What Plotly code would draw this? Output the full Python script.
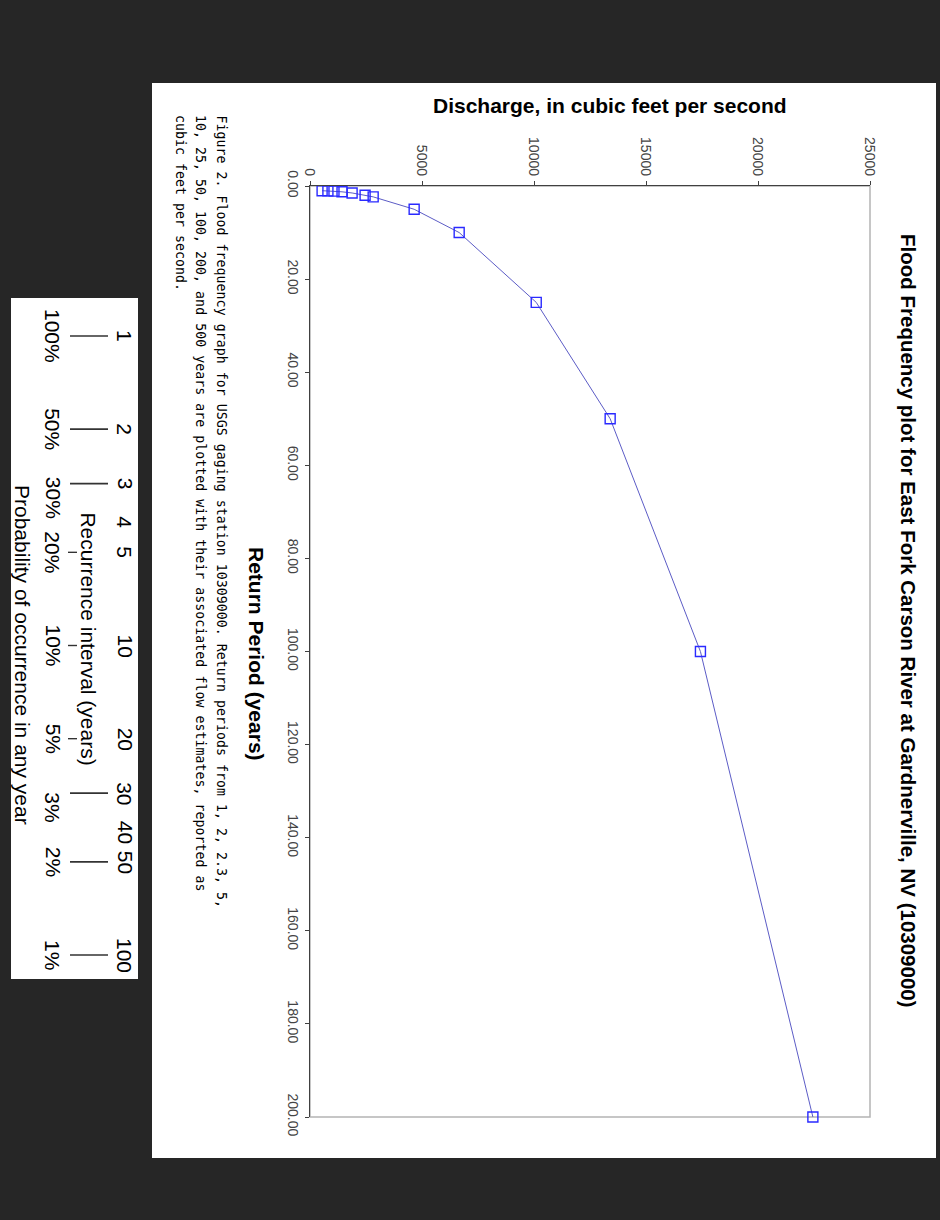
import numpy as np
import plotly.graph_objects as go

# ---------------- data ----------------
return_period = [1.01, 1.05, 1.11, 1.25, 1.5, 2, 2.33, 5, 10, 25, 50, 100, 200]
discharge = [540, 800, 1070, 1430, 1880, 2460, 2820, 4650, 6660, 10100, 13400, 17430, 22450]

discharge_ticks = [0, 5000, 10000, 15000, 20000, 25000]
period_ticks = [0, 20, 40, 60, 80, 100, 120, 140, 160, 180, 200]

title_text = "Flood Frequency plot for East Fork Carson River at Gardnerville, NV (10309000)"
x_title = "Discharge, in cubic feet per second"
y_title = "Return Period (years)"
caption_lines = [
    "Figure 2. Flood frequency graph for USGS gaging station 10309000. Return periods from 1, 2, 2.3, 5,",
    "10, 25, 50, 100, 200, and 500 years are plotted with their associated flow estimates, reported as",
    "cubic feet per second.",
]

# recurrence-interval ruler
ruler_years = [1, 2, 3, 4, 5, 10, 20, 30, 40, 50, 100]
ruler_pct = [100, 50, 30, 20, 10, 5, 3, 2, 1]
long_bar_years = [1, 2, 3, 30, 50, 100]
short_bar_years = [5, 10, 20]
ruler_title = "Recurrence interval (years)"
prob_title = "Probability of occurrence in any year"

# ---------------- layout helpers (pixel -> paper) ----------------
W, H = 940, 1220
L, R, T, B = 310, 870, 186, 1117


def px(x):
    return (x - L) / (R - L)


def py(y):
    return (B - y) / (B - T)


# log ruler: year 1 at y=336 px, year 100 at y=955 px
r_top, r_dec = 336, 309.5
ruler_range = [(B - r_top) / r_dec, (T - r_top) / r_dec]

FONT = "Liberation Sans, Arial, sans-serif"
fig = go.Figure()

fig.add_trace(go.Scatter(
    x=discharge, y=return_period, mode="lines+markers",
    line=dict(color="#5c5cc6", width=1),
    marker=dict(symbol="square-open", size=10, color="#2a2aff", line=dict(width=1.4, color="#2a2aff")),
    cliponaxis=False, showlegend=False, hoverinfo="skip"))
# invisible trace to activate the ruler axis
fig.add_trace(go.Scatter(x=[None], y=[None], yaxis="y2", showlegend=False, hoverinfo="skip"))

shapes = [
    # white sheet
    dict(type="rect", xref="paper", yref="paper", x0=px(152), x1=px(936), y0=py(1158), y1=py(83),
         fillcolor="white", line=dict(width=0), layer="below"),
    # plot frame (gray)
    dict(type="rect", xref="paper", yref="paper", x0=0, x1=1, y0=0, y1=1,
         line=dict(color="#b4b4b4", width=1.5), layer="below"),
    # ruler box
    dict(type="rect", xref="paper", yref="paper", x0=px(11), x1=px(138), y0=py(979), y1=py(298),
         fillcolor="white", line=dict(width=0), layer="below"),
]
for yr in long_bar_years:
    v = float(np.log10(yr))
    shapes.append(dict(type="line", xref="paper", yref="y2", x0=px(70), x1=px(108), y0=v, y1=v,
                       line=dict(color="#333333", width=1.6), layer="above"))
for yr in short_bar_years:
    v = float(np.log10(yr))
    shapes.append(dict(type="line", xref="paper", yref="y2", x0=px(68), x1=px(77), y0=v, y1=v,
                       line=dict(color="#333333", width=1.4), layer="above"))

ann = []
ann.append(dict(text="<b>" + title_text + "</b>", x=px(909), y=py(621), xref="paper", yref="paper",
                textangle=90, showarrow=False, xanchor="center", yanchor="middle",
                font=dict(family=FONT, size=20.5, color="black")))
ann.append(dict(text="<b>" + x_title + "</b>", x=px(610), y=py(105), xref="paper", yref="paper",
                showarrow=False, xanchor="center", yanchor="middle",
                font=dict(family=FONT, size=21, color="black")))
ann.append(dict(text="<b>" + y_title + "</b>", x=px(257), y=py(654), xref="paper", yref="paper",
                textangle=90, showarrow=False, xanchor="center", yanchor="middle",
                font=dict(family=FONT, size=21, color="black")))
for i, line in enumerate(caption_lines):
    ann.append(dict(text=line, x=px(221 - 20.5 * i), y=py(113), xref="paper", yref="paper",
                    textangle=90, showarrow=False, xanchor="center", yanchor="top",
                    font=dict(family="DejaVu Sans Mono, monospace", size=13.3, color="black")))
for yr in ruler_years:
    ann.append(dict(text=str(yr), x=px(125), y=float(np.log10(yr)), xref="paper", yref="y2",
                    textangle=90, showarrow=False, xanchor="center", yanchor="middle",
                    font=dict(family=FONT, size=21, color="black")))
for p in ruler_pct:
    ann.append(dict(text=f"{p}%", x=px(53), y=float(np.log10(100.0 / p)), xref="paper", yref="y2",
                    textangle=90, showarrow=False, xanchor="center", yanchor="middle",
                    font=dict(family=FONT, size=21, color="black")))
ann.append(dict(text=ruler_title, x=px(89), y=float(np.log10(np.sqrt(3 * 30))), xref="paper", yref="y2",
                textangle=90, showarrow=False, xanchor="center", yanchor="middle",
                font=dict(family=FONT, size=21, color="black")))
ann.append(dict(text=prob_title, x=px(23), y=py(655), xref="paper", yref="paper",
                textangle=90, showarrow=False, xanchor="center", yanchor="middle",
                font=dict(family=FONT, size=21, color="black")))

fig.update_layout(
    width=W, height=H,
    margin=dict(l=L, r=W - R, t=T, b=H - B, pad=0),
    paper_bgcolor="#262626", plot_bgcolor="rgba(0,0,0,0)",
    showlegend=False,
    xaxis=dict(range=[0, 25000], side="top", tickvals=discharge_ticks,
               ticktext=[str(v) for v in discharge_ticks], tickangle=90,
               ticks="outside", ticklen=4, tickcolor="#404040",
               showline=True, linecolor="#404040", linewidth=1.2,
               showgrid=False, zeroline=False,
               tickfont=dict(family=FONT, size=14, color="#444444")),
    yaxis=dict(range=[200, 0], tickvals=period_ticks,
               ticktext=[f"{v:.2f}" for v in period_ticks], tickangle=90,
               ticks="outside", ticklen=4, tickcolor="#404040",
               showline=True, linecolor="#404040", linewidth=1.2,
               showgrid=False, zeroline=False,
               tickfont=dict(family=FONT, size=14, color="#444444")),
    yaxis2=dict(range=ruler_range, overlaying="y", anchor="x", visible=False,
                showgrid=False, zeroline=False),
    shapes=shapes,
    annotations=ann,
)

fig.write_html(
    "out.html",
    config={"displayModeBar": False},
    post_script="document.body.style.margin='0';document.body.style.background='#262626';",
)
